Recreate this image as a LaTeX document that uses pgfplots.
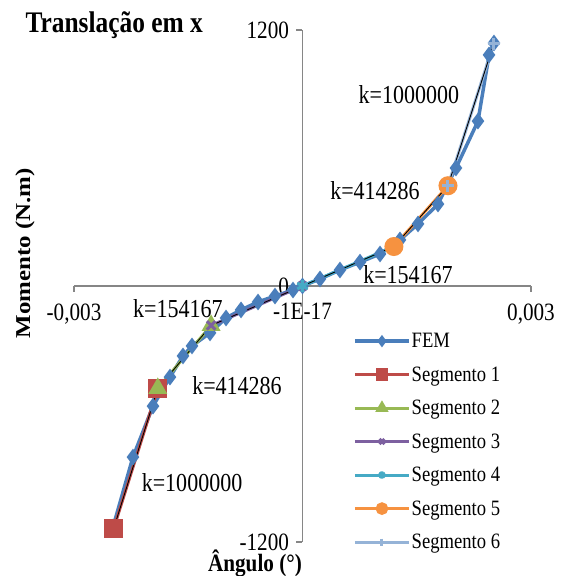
\documentclass[border=0pt]{standalone}
\usepackage{fontspec}
\setmainfont{Liberation Serif}[FakeStretch=0.85]
\newfontfamily\plainserif{Liberation Serif}
\usepackage{graphicx}
\usepackage{pgfplots}
\pgfplotsset{compat=1.18}
\usetikzlibrary{calc}

\definecolor{fem}{HTML}{4A7EBB}
\definecolor{seg1}{HTML}{BE4B48}
\definecolor{seg2}{HTML}{98B954}
\definecolor{seg3}{HTML}{7D60A0}
\definecolor{seg4}{HTML}{46AAC5}
\definecolor{seg5}{HTML}{F69240}
\definecolor{seg6}{HTML}{95B3D7}
\definecolor{axgray}{HTML}{868686}

\newcommand\tickfont{\fontsize{25}{27}\selectfont}
\newcommand\kfont{\fontsize{26}{28}\selectfont}

\begin{document}
\begin{tikzpicture}
\begin{axis}[
    scale only axis, width=457bp, height=512bp,
    xmin=-0.003, xmax=0.003, ymin=-1200, ymax=1200,
    axis lines=middle,
    axis line style={axgray, line width=1.2bp, -},
    scaled x ticks=false, scaled y ticks=false,
    xtick={-0.003,0,0.003}, xticklabels={{-0,003},{-1E-17},{0,003}},
    ytick={-1200,0,1200}, yticklabels={-1200,0,1200},
    hide obscured x ticks=false, hide obscured y ticks=false,
    tick align=outside, major tick length=6bp,
    tick style={axgray, line width=1.2bp},
    xticklabel style={font=\tickfont, anchor=north, yshift=-8bp},
    yticklabel style={font=\tickfont, anchor=east, xshift=-4bp},
    clip=false,
    legend cell align=left,
    legend style={at={(0.604,0.414)}, anchor=north west, draw=none, fill=none,
        font=\fontsize{22}{24}\selectfont, row sep=15.5bp,
        nodes={inner sep=1bp}},
    legend image code/.code={\draw[mark repeat=2,mark phase=2,#1,
        every mark/.append style={scale=0.6}]
        plot coordinates {(0bp,0bp) (27bp,0bp) (54bp,0bp)};},
]
% FEM results
\addplot[fem, line width=3.5bp, mark=diamond*, mark size=5.5bp] coordinates {
    (-0.002488,-1130) (-0.002226,-802) (-0.001963,-563) (-0.001740,-427)
    (-0.001569,-328) (-0.001451,-281) (-0.001214,-220) (-0.001004,-150)
    (-0.000807,-112) (-0.000584,-75) (-0.000361,-47) (-0.000125,-19)
    (0,0) (0.000230,33) (0.000492,75) (0.000755,112) (0.001018,150)
    (0.001280,216) (0.001517,291) (0.001779,384) (0.002015,553)
    (0.002304,773) (0.002449,1083) (0.002514,1139)
};
\addlegendentry{FEM}
\addplot[seg1, line width=3bp, mark=square*, mark size=8bp] coordinates {
    (-0.00248,-1138) (-0.0019,-480)
};
\addlegendentry{Segmento 1}
\addplot[seg2, line width=3bp, mark=triangle*, mark size=8bp] coordinates {
    (-0.0019,-480) (-0.0012,-185)
};
\addlegendentry{Segmento 2}
\addplot[seg3, line width=3bp, mark=x, mark size=6bp] coordinates {
    (-0.0012,-185) (0,0)
};
\addlegendentry{Segmento 3}
\addplot[seg4, line width=3bp, mark=asterisk, mark size=6bp] coordinates {
    (0,0) (0.0012,185)
};
\addlegendentry{Segmento 4}
\addplot[seg5, line width=3bp, mark=*, mark size=8bp] coordinates {
    (0.0012,185) (0.00191,470)
};
\addlegendentry{Segmento 5}
\addplot[seg6, line width=3bp, mark=+, mark size=6bp] coordinates {
    (0.00191,470) (0.00251,1135)
};
\addlegendentry{Segmento 6}
% thin black centre line of the bilinear model
\addplot[black, line width=0.9bp, forget plot] coordinates {
    (-0.00248,-1138) (-0.0019,-480) (-0.0012,-185) (0,0)
    (0.0012,185) (0.00191,470) (0.00251,1135)
};

\node[font=\kfont] at (axis cs:0.001398,895) {k=1000000};
\node[font=\kfont] at (axis cs:0.000952,445) {k=414286};
\node[font=\kfont] at (axis cs:0.001385,52) {k=154167};
\node[font=\kfont] at (axis cs:-0.001635,-108) {k=154167};
\node[font=\kfont] at (axis cs:-0.00086,-469) {k=414286};
\node[font=\kfont] at (axis cs:-0.00145,-923) {k=1000000};

\node[anchor=base west, font=\bfseries\fontsize{30}{32}\selectfont]
    at ([xshift=-52bp,yshift=-3bp]rel axis cs:0,1) {Translação em x};
\node[anchor=base, font=\bfseries\fontsize{25}{27}\selectfont]
    at ([yshift=-29bp]rel axis cs:0.396,0) {Ângulo (°)};
\node[rotate=90] at ([xshift=-49bp]rel axis cs:0,0.564)
    {\scalebox{1}[0.85]{\plainserif\bfseries\fontsize{25}{27}\selectfont Momento (N.m)}};

\coordinate (bl) at (rel axis cs:0,0);
\coordinate (tr) at (rel axis cs:1,1);
\end{axis}
\pgfresetboundingbox
\useasboundingbox ($(bl)+(-74bp,-34bp)$) rectangle ($(tr)+(34bp,30bp)$);
\end{tikzpicture}
\end{document}
